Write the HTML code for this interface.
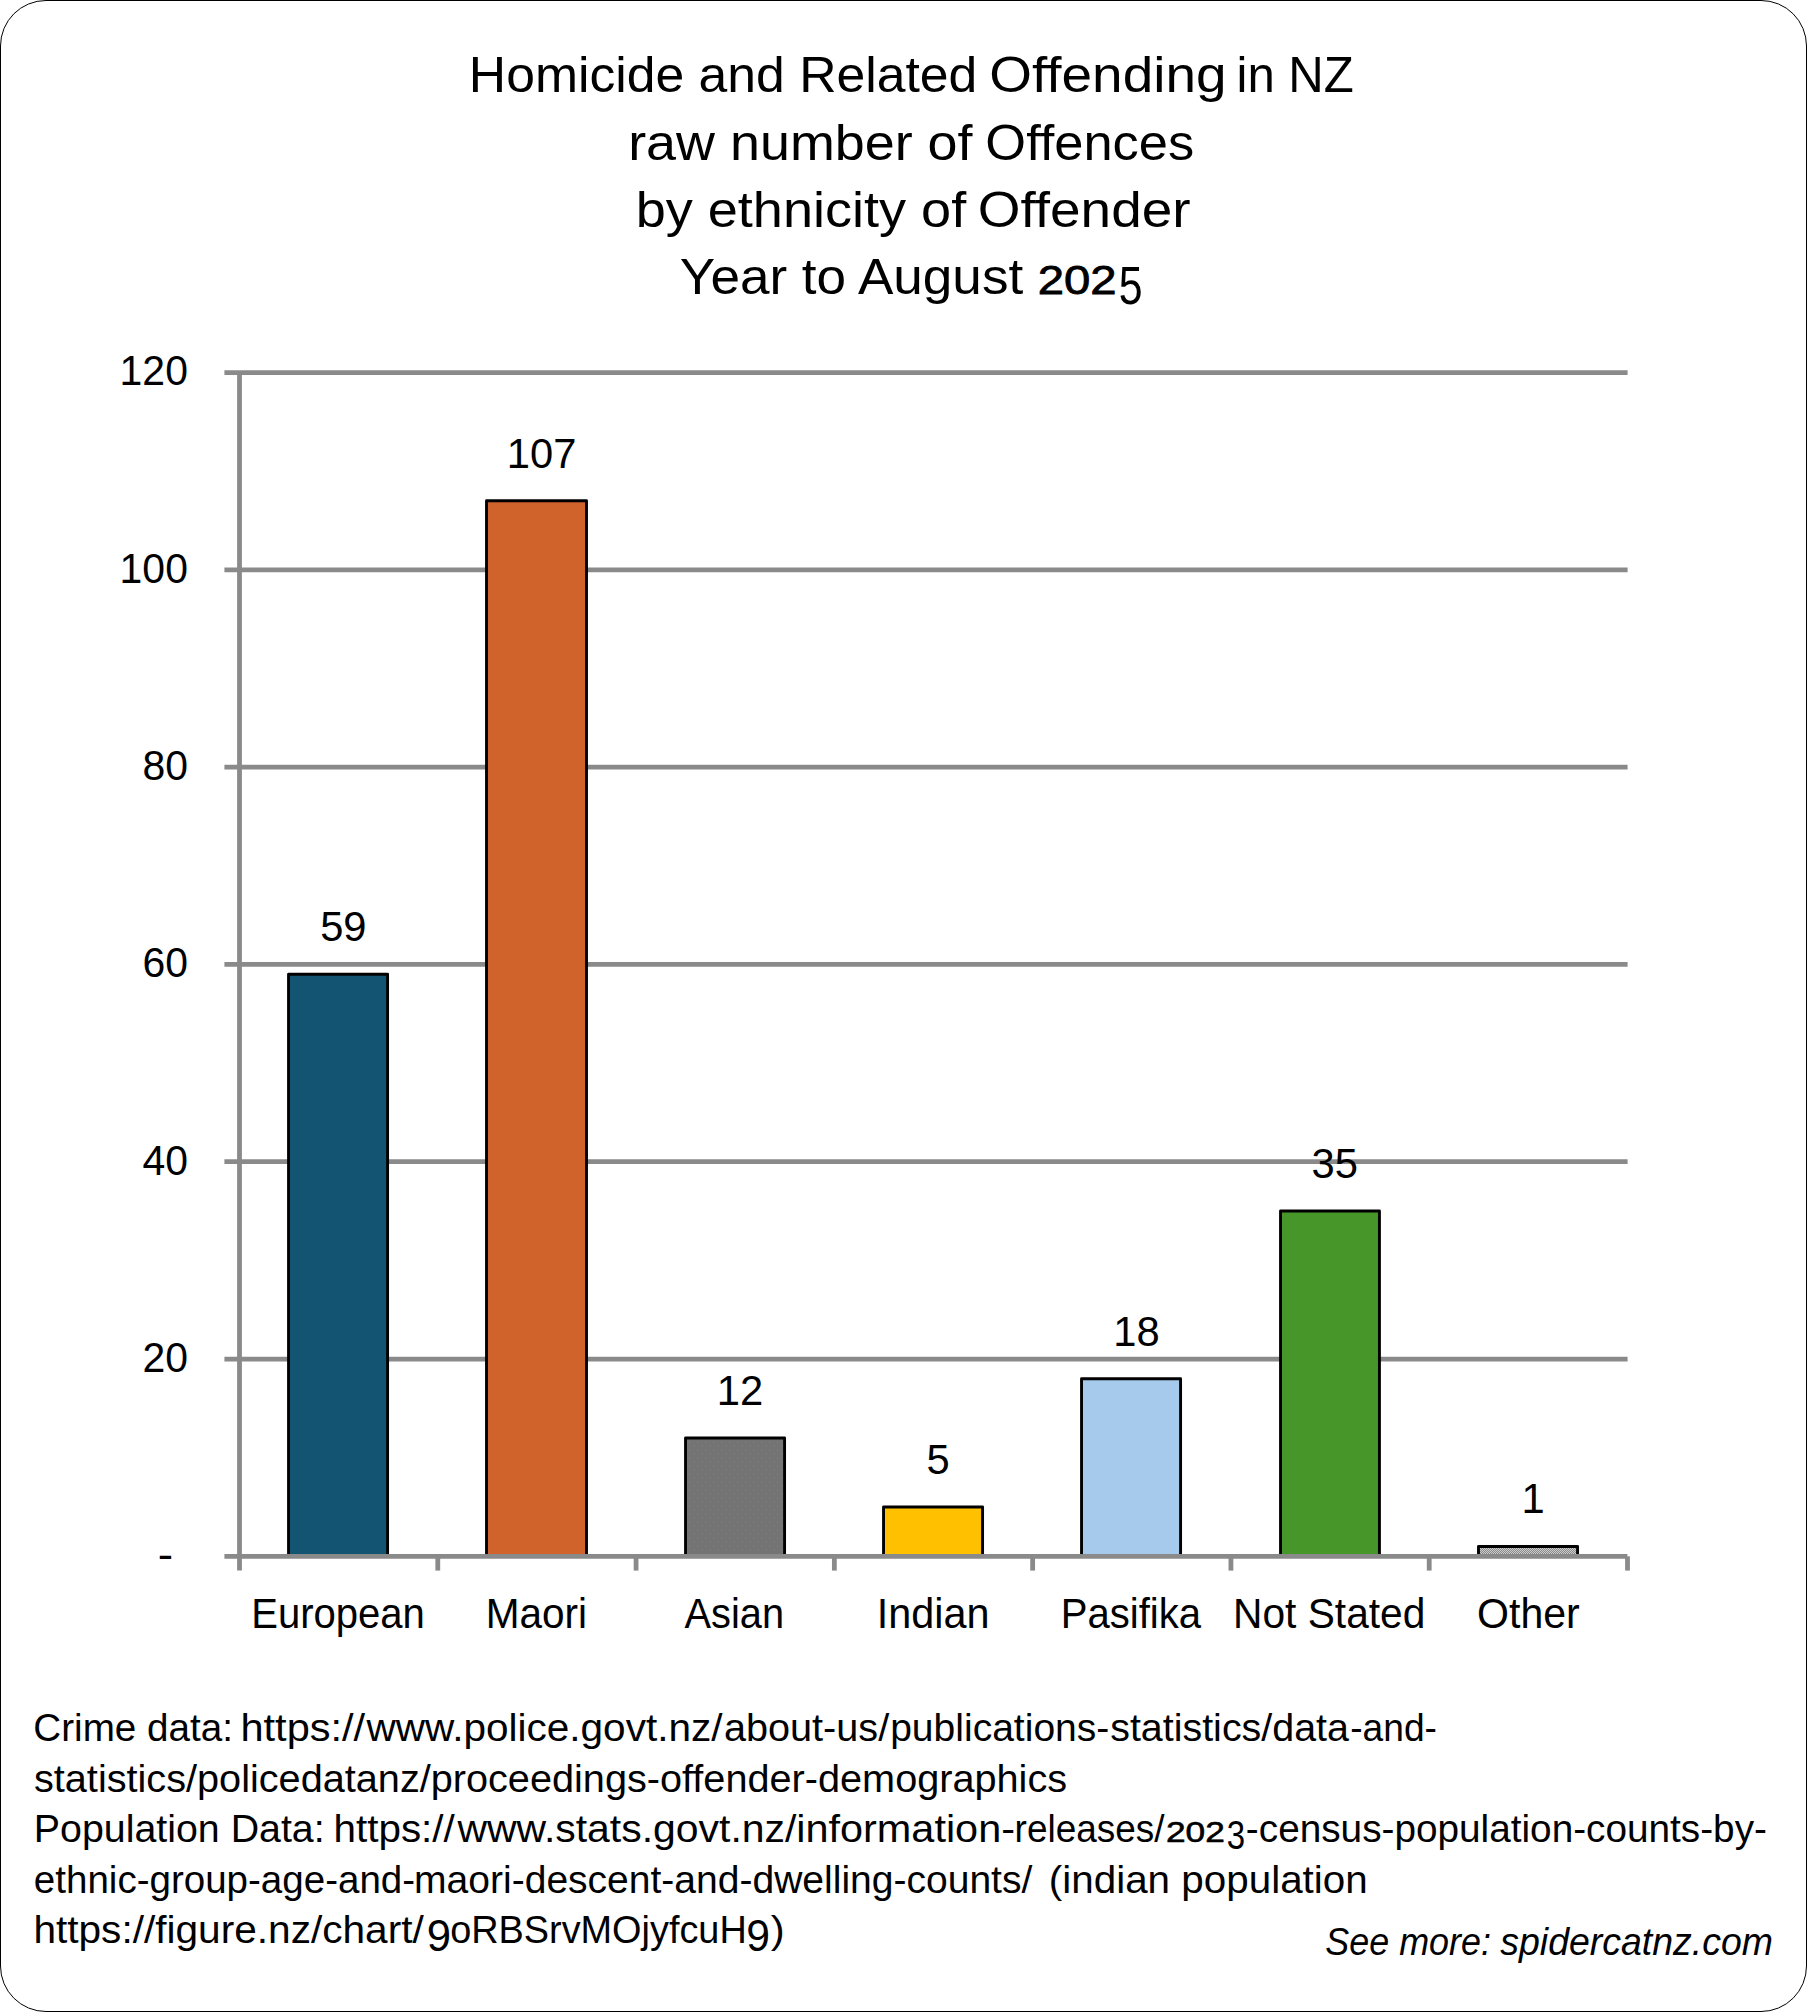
<!DOCTYPE html>
<html lang="en"><head><meta charset="utf-8"><title>Homicide and Related Offending in NZ</title>
<style>html,body{margin:0;padding:0;background:#fff}svg{display:block}text{font-family:"Liberation Sans",sans-serif;fill:#000}</style>
</head><body>
<svg width="1807" height="2012" viewBox="0 0 1807 2012">
<defs>
<pattern id="dots" width="8" height="8" patternUnits="userSpaceOnUse"><rect width="8" height="8" fill="#747474"/><rect x="1" y="2" width="1" height="1" fill="#828282"/><rect x="5" y="5" width="1" height="1" fill="#828282"/></pattern>
<pattern id="chk" width="2" height="2" patternUnits="userSpaceOnUse"><rect width="2" height="2" fill="#8a8a8a"/><rect x="0" y="0" width="1" height="1" fill="#cccccc"/><rect x="1" y="1" width="1" height="1" fill="#cccccc"/></pattern>
</defs>
<rect x="0" y="0" width="1807" height="2012" fill="#fff"/>
<rect x="0.5" y="0.5" width="1806" height="2011" rx="45.5" ry="45.5" fill="#fff" stroke="#000" stroke-width="1"/>
<text id="t1" font-size="50.3" xml:space="preserve"><tspan x="468.87" y="92.2" textLength="522.77" lengthAdjust="spacingAndGlyphs">Homicide and Related </tspan><tspan x="989.29" y="92.2" textLength="252.49" lengthAdjust="spacingAndGlyphs">Offending </tspan><tspan x="1236.50" y="92.2" textLength="117.31" lengthAdjust="spacingAndGlyphs">in NZ</tspan></text>
<text id="t2" font-size="50.3" xml:space="preserve"><tspan x="628.18" y="160.1" textLength="359.33" lengthAdjust="spacingAndGlyphs">raw number of </tspan><tspan x="985.38" y="160.1" textLength="208.79" lengthAdjust="spacingAndGlyphs">Offences</tspan></text>
<text id="t3" font-size="50.3" xml:space="preserve"><tspan x="635.68" y="227.2" textLength="345.54" lengthAdjust="spacingAndGlyphs">by ethnicity of </tspan><tspan x="977.85" y="227.2" textLength="212.66" lengthAdjust="spacingAndGlyphs">Offender</tspan></text>
<text id="t4" font-size="50.3" xml:space="preserve"><tspan x="679.88" y="294.4" textLength="358.05" lengthAdjust="spacingAndGlyphs">Year to August </tspan><tspan x="1037.67" y="294.4" font-size="40.8" stroke="#000" stroke-width="0.8" textLength="78.93" lengthAdjust="spacingAndGlyphs">202</tspan><tspan x="1118.75" y="303.7" font-size="54.4" textLength="23.79" lengthAdjust="spacingAndGlyphs">5</tspan></text>
<line x1="224.4" y1="372.50" x2="1627.6" y2="372.50" stroke="#8a8a8a" stroke-width="4.75"/>
<line x1="224.4" y1="569.81" x2="1627.6" y2="569.81" stroke="#8a8a8a" stroke-width="4.75"/>
<line x1="224.4" y1="767.12" x2="1627.6" y2="767.12" stroke="#8a8a8a" stroke-width="4.75"/>
<line x1="224.4" y1="964.42" x2="1627.6" y2="964.42" stroke="#8a8a8a" stroke-width="4.75"/>
<line x1="224.4" y1="1161.73" x2="1627.6" y2="1161.73" stroke="#8a8a8a" stroke-width="4.75"/>
<line x1="224.4" y1="1359.04" x2="1627.6" y2="1359.04" stroke="#8a8a8a" stroke-width="4.75"/>
<rect x="288.54" y="974.29" width="99.04" height="582.06" fill="#125472" stroke="#000" stroke-width="2.9" stroke-linejoin="round"/>
<rect x="486.52" y="500.75" width="99.98" height="1055.60" fill="#d0622c" stroke="#000" stroke-width="2.9" stroke-linejoin="round"/>
<rect x="685.54" y="1437.96" width="99.04" height="118.38" fill="url(#dots)" stroke="#000" stroke-width="2.9" stroke-linejoin="round"/>
<rect x="883.54" y="1507.02" width="99.04" height="49.33" fill="#ffc000" stroke="#000" stroke-width="2.9" stroke-linejoin="round"/>
<rect x="1081.54" y="1378.77" width="99.04" height="177.58" fill="#a6caec" stroke="#000" stroke-width="2.9" stroke-linejoin="round"/>
<rect x="1280.54" y="1211.06" width="98.90" height="345.29" fill="#46962a" stroke="#000" stroke-width="2.9" stroke-linejoin="round"/>
<rect x="1478.50" y="1546.48" width="99.05" height="9.87" fill="url(#chk)" stroke="#000" stroke-width="2.9" stroke-linejoin="round"/>
<line x1="224.4" y1="1556.35" x2="1627.4" y2="1556.35" stroke="#8a8a8a" stroke-width="4.75"/>
<line x1="239.5" y1="372.50" x2="239.5" y2="1570.6" stroke="#8a8a8a" stroke-width="4.8"/>
<line x1="437.79" y1="1556.35" x2="437.79" y2="1570.6" stroke="#8a8a8a" stroke-width="4.8"/>
<line x1="636.07" y1="1556.35" x2="636.07" y2="1570.6" stroke="#8a8a8a" stroke-width="4.8"/>
<line x1="834.36" y1="1556.35" x2="834.36" y2="1570.6" stroke="#8a8a8a" stroke-width="4.8"/>
<line x1="1032.64" y1="1556.35" x2="1032.64" y2="1570.6" stroke="#8a8a8a" stroke-width="4.8"/>
<line x1="1230.93" y1="1556.35" x2="1230.93" y2="1570.6" stroke="#8a8a8a" stroke-width="4.8"/>
<line x1="1429.21" y1="1556.35" x2="1429.21" y2="1570.6" stroke="#8a8a8a" stroke-width="4.8"/>
<line x1="1627.50" y1="1556.35" x2="1627.50" y2="1570.6" stroke="#8a8a8a" stroke-width="4.8"/>
<text transform="translate(187.9,385.35) scale(0.95,1)" font-size="43.1" text-anchor="end">120</text>
<text transform="translate(187.9,582.66) scale(0.95,1)" font-size="43.1" text-anchor="end">100</text>
<text transform="translate(187.9,779.97) scale(0.95,1)" font-size="43.1" text-anchor="end">80</text>
<text transform="translate(187.9,977.27) scale(0.95,1)" font-size="43.1" text-anchor="end">60</text>
<text transform="translate(187.9,1174.58) scale(0.95,1)" font-size="43.1" text-anchor="end">40</text>
<text transform="translate(187.9,1371.89) scale(0.95,1)" font-size="43.1" text-anchor="end">20</text>
<text x="157.7" y="1569.05" font-size="43.1" textLength="15.4" lengthAdjust="spacingAndGlyphs">-</text>
<text transform="translate(343.34,941.19) scale(0.968,1)" font-size="43.1" text-anchor="middle">59</text>
<text transform="translate(541.63,467.65) scale(0.968,1)" font-size="43.1" text-anchor="middle">107</text>
<text transform="translate(739.91,1404.87) scale(0.968,1)" font-size="43.1" text-anchor="middle">12</text>
<text transform="translate(938.20,1473.92) scale(0.968,1)" font-size="43.1" text-anchor="middle">5</text>
<text transform="translate(1136.49,1345.67) scale(0.968,1)" font-size="43.1" text-anchor="middle">18</text>
<text transform="translate(1334.77,1177.96) scale(0.968,1)" font-size="43.1" text-anchor="middle">35</text>
<text transform="translate(1533.06,1513.38) scale(0.968,1)" font-size="43.1" text-anchor="middle">1</text>
<text id="c1" font-size="43.3" xml:space="preserve"><tspan x="251.30" y="1627.7" textLength="173.59" lengthAdjust="spacingAndGlyphs">European</tspan></text>
<text id="c2" font-size="43.3" xml:space="preserve"><tspan x="485.71" y="1627.7" textLength="101.36" lengthAdjust="spacingAndGlyphs">Maori</tspan></text>
<text id="c3" font-size="43.3" xml:space="preserve"><tspan x="684.53" y="1627.7" textLength="99.57" lengthAdjust="spacingAndGlyphs">Asian</tspan></text>
<text id="c4" font-size="43.3" xml:space="preserve"><tspan x="876.74" y="1627.7" textLength="112.83" lengthAdjust="spacingAndGlyphs">Indian</tspan></text>
<text id="c5" font-size="43.3" xml:space="preserve"><tspan x="1060.65" y="1627.7" textLength="140.40" lengthAdjust="spacingAndGlyphs">Pasifika</tspan></text>
<text id="c6" font-size="43.3" xml:space="preserve"><tspan x="1233.09" y="1627.7" textLength="192.30" lengthAdjust="spacingAndGlyphs">Not Stated</tspan></text>
<text id="c7" font-size="43.3" xml:space="preserve"><tspan x="1477.09" y="1627.7" textLength="102.71" lengthAdjust="spacingAndGlyphs">Other</tspan></text>
<text id="f1" font-size="38" xml:space="preserve"><tspan x="33.35" y="1740.5" textLength="210.32" lengthAdjust="spacingAndGlyphs">Crime data: </tspan><tspan x="240.46" y="1740.5" textLength="124.70" lengthAdjust="spacingAndGlyphs">https://</tspan><tspan x="366.59" y="1740.5" textLength="355.92" lengthAdjust="spacingAndGlyphs">www.police.govt.nz/</tspan><tspan x="723.93" y="1740.5" textLength="165.24" lengthAdjust="spacingAndGlyphs">about-us/</tspan><tspan x="890.16" y="1740.5" textLength="219.18" lengthAdjust="spacingAndGlyphs">publications-</tspan><tspan x="1110.21" y="1740.5" textLength="238.73" lengthAdjust="spacingAndGlyphs">statistics/data</tspan><tspan x="1350.22" y="1740.5" textLength="86.72" lengthAdjust="spacingAndGlyphs">-and-</tspan></text>
<text id="f2" font-size="38" xml:space="preserve"><tspan x="33.98" y="1792.3" textLength="1033.11" lengthAdjust="spacingAndGlyphs">statistics/policedatanz/proceedings-offender-demographics</tspan></text>
<text id="f3" font-size="38" xml:space="preserve"><tspan x="33.86" y="1841.8" textLength="301.68" lengthAdjust="spacingAndGlyphs">Population Data: </tspan><tspan x="333.51" y="1841.8" textLength="121.31" lengthAdjust="spacingAndGlyphs">https://</tspan><tspan x="457.53" y="1841.8" textLength="338.84" lengthAdjust="spacingAndGlyphs">www.stats.govt.nz/</tspan><tspan x="796.32" y="1841.8" textLength="218.66" lengthAdjust="spacingAndGlyphs">information-</tspan><tspan x="1014.62" y="1841.8" textLength="149.93" lengthAdjust="spacingAndGlyphs">releases/</tspan><tspan x="1165.98" y="1841.8" font-size="29.4" stroke="#000" stroke-width="0.6" textLength="58.82" lengthAdjust="spacingAndGlyphs">202</tspan><tspan x="1226.80" y="1849.1" font-size="41.0" textLength="18.35" lengthAdjust="spacingAndGlyphs">3</tspan><tspan x="1245.86" y="1841.8" textLength="521.08" lengthAdjust="spacingAndGlyphs">-census-population-counts-by-</tspan></text>
<text id="f4" font-size="38" xml:space="preserve"><tspan x="33.84" y="1892.8" textLength="381.28" lengthAdjust="spacingAndGlyphs">ethnic-group-age-and-</tspan><tspan x="414.11" y="1892.8" textLength="629.04" lengthAdjust="spacingAndGlyphs">maori-descent-and-dwelling-counts/ </tspan><tspan x="1048.83" y="1892.8" textLength="318.90" lengthAdjust="spacingAndGlyphs">(indian population</tspan></text>
<text id="f5" font-size="38" xml:space="preserve"><tspan x="33.40" y="1943.2" textLength="390.36" lengthAdjust="spacingAndGlyphs">https://figure.nz/chart/</tspan><tspan x="426.79" y="1950.8" font-size="43.7" textLength="24.34" lengthAdjust="spacingAndGlyphs">9</tspan><tspan x="450.13" y="1943.2" textLength="296.62" lengthAdjust="spacingAndGlyphs">oRBSrvMOjyfcuH</tspan><tspan x="746.37" y="1950.8" font-size="43.7" textLength="23.74" lengthAdjust="spacingAndGlyphs">9</tspan><tspan x="770.87" y="1943.2" textLength="13.91" lengthAdjust="spacingAndGlyphs">)</tspan></text>
<text id="s1" font-size="38.0" font-style="italic" xml:space="preserve"><tspan x="1325.37" y="1954.7" textLength="175.55" lengthAdjust="spacingAndGlyphs">See more: </tspan><tspan x="1500.28" y="1954.7" textLength="272.77" lengthAdjust="spacingAndGlyphs">spidercatnz.com</tspan></text>
</svg>
</body></html>
